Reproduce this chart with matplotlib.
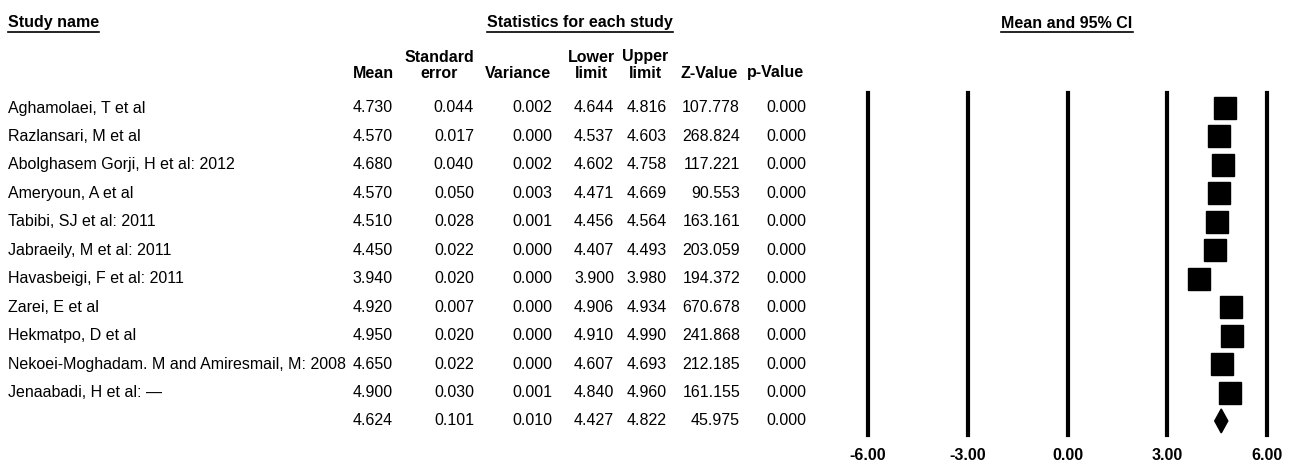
import matplotlib.pyplot as plt
from matplotlib.patches import Polygon
from matplotlib.lines import Line2D

plt.rcParams['font.family'] = ['Liberation Sans', 'DejaVu Sans']

# study table
studies = ['Aghamolaei, T et al', 'Razlansari, M et al', 'Abolghasem Gorji, H et al: 2012',
           'Ameryoun, A et al', 'Tabibi, SJ et al: 2011', 'Jabraeily, M et al: 2011',
           'Havasbeigi, F et al: 2011', 'Zarei, E et al', 'Hekmatpo, D et al',
           'Nekoei-Moghadam. M and Amiresmail, M: 2008', 'Jenaabadi, H et al: \u2014', '']
mean = [4.730, 4.570, 4.680, 4.570, 4.510, 4.450, 3.940, 4.920, 4.950, 4.650, 4.900, 4.624]
stderr = [0.044, 0.017, 0.040, 0.050, 0.028, 0.022, 0.020, 0.007, 0.020, 0.022, 0.030, 0.101]
variance = [0.002, 0.000, 0.002, 0.003, 0.001, 0.000, 0.000, 0.000, 0.000, 0.000, 0.001, 0.010]
lower = [4.644, 4.537, 4.602, 4.471, 4.456, 4.407, 3.900, 4.906, 4.910, 4.607, 4.840, 4.427]
upper = [4.816, 4.603, 4.758, 4.669, 4.564, 4.493, 3.980, 4.934, 4.990, 4.693, 4.960, 4.822]
zval = [107.778, 268.824, 117.221, 90.553, 163.161, 203.059, 194.372, 670.678, 241.868,
        212.185, 161.155, 45.975]
pval = [0.000] * 12
ticks = [-6, -3, 0, 3, 6]

W, H = 1296, 475
fig = plt.figure(figsize=(W / 100, H / 100), dpi=100)

# background axes in pixel units for the table text
ax = fig.add_axes([0, 0, 1, 1])
ax.set_xlim(0, W)
ax.set_ylim(H, 0)
ax.axis('off')

row0, step = 108, 28.45
n = len(mean)
fs = 11.5

cols = [  # (values, format, right edge, header lines, header centre)
    (mean, '%.3f', 393, ['', 'Mean'], 373),
    (stderr, '%.3f', 474, ['Standard', 'error'], 439),
    (variance, '%.3f', 552, ['', 'Variance'], 518),
    (lower, '%.3f', 614, ['Lower', 'limit'], 591),
    (upper, '%.3f', 667, ['Upper', 'limit'], 645),
    (zval, '%.3f', 740, ['', 'Z-Value'], 709),
    (pval, '%.3f', 806, ['', 'p-Value'], 775),
]

for i in range(n):
    y = row0 + i * step
    ax.text(8, y, studies[i], fontsize=fs, ha='left', va='center')
    for vals, fmt, xr, hdr, xc in cols:
        ax.text(xr, y, fmt % vals[i], fontsize=fs, ha='right', va='center')

for vals, fmt, xr, hdr, xc in cols:
    for k, line in enumerate(hdr):
        if line:
            ax.text(xc, 57 + k * 16, line, fontsize=fs, fontweight='bold',
                    ha='center', va='center')

titles = [
    ax.text(8, 23, 'Study name', fontsize=fs, fontweight='bold', ha='left', va='center'),
    ax.text(580, 23, 'Statistics for each study', fontsize=fs, fontweight='bold',
            ha='center', va='center'),
    ax.text(1067, 23, 'Mean and 95% CI', fontsize=fs, fontweight='bold',
            ha='center', va='center'),
]

# forest panel
x0, x1 = 868, 1267
ytop, ybot = 93, 435
fa = fig.add_axes([x0 / W, (H - ybot) / H, (x1 - x0) / W, (ybot - ytop) / H])
fa.set_xlim(-6, 6)
fa.set_ylim((ybot - row0) / step, (ytop - row0) / step)
for s in fa.spines.values():
    s.set_visible(False)
fa.set_yticks([])
fa.set_xticks(ticks)
fa.set_xticklabels(['%.2f' % t for t in ticks], fontsize=fs, fontweight='bold')
fa.tick_params(axis='x', length=0, pad=9)
fa.patch.set_alpha(0)

for t in ticks:
    fa.axvline(t, color='black', lw=3, clip_on=False)

rows = list(range(n))
fa.plot(mean[:-1], rows[:-1], 's', color='black', markersize=16.5, linestyle='none',
        clip_on=False)

# summary diamond
k = n - 1
fa.add_patch(Polygon([(lower[k], k), (mean[k], k - 0.42), (upper[k], k), (mean[k], k + 0.42)],
                     closed=True, color='black'))

# underline the section titles
fig.canvas.draw()
r = fig.canvas.get_renderer()
for t in titles:
    bb = t.get_window_extent(r)
    yl = bb.y0 - 1
    fig.add_artist(Line2D([bb.x0 / W, bb.x1 / W], [yl / H, yl / H], color='black', lw=1.2))

fig.savefig('out.png', dpi=100)
